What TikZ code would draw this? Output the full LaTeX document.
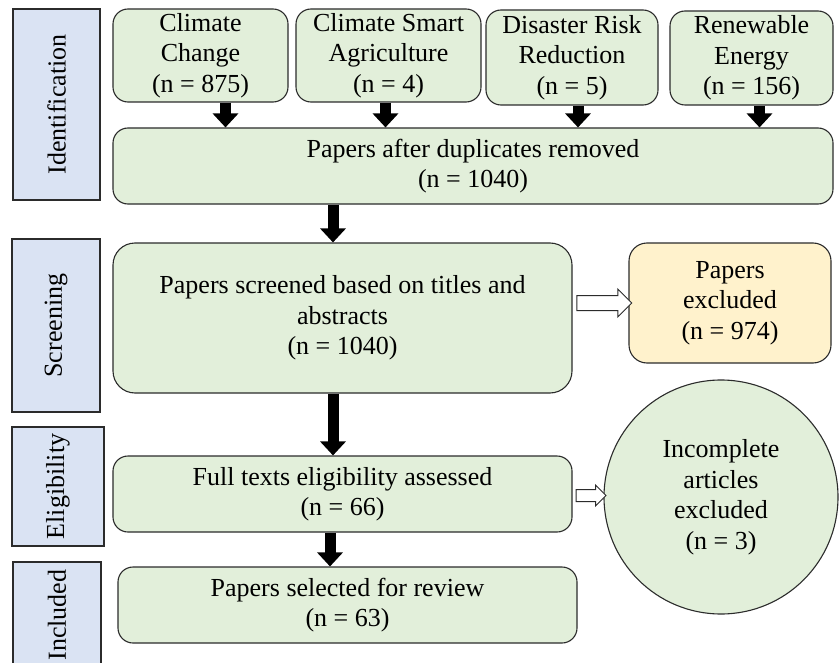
\documentclass[tikz,border=0pt]{standalone}
\usepackage{fontspec}
\setmainfont{Liberation Serif}
\usetikzlibrary{arrows.meta,shapes.arrows,shapes.geometric,calc}
\definecolor{gfill}{HTML}{E2EFDA}
\definecolor{bfill}{HTML}{DAE3F3}
\definecolor{yfill}{HTML}{FFF2CC}
\definecolor{edge}{HTML}{2B2B2B}
\begin{document}
\begin{tikzpicture}[x=1pt,y=-1pt,
  font=\fontsize{26}{30.5}\selectfont,
  phase/.style={draw=edge, line width=1.1pt, fill=bfill, inner sep=0pt},
  gbox/.style={draw=edge, line width=1.1pt, fill=gfill, rounded corners=15pt, align=center, inner sep=0pt},
  ybox/.style={gbox, fill=yfill},
  blk/.style={line width=11pt, -{Triangle[width=25pt,length=14pt]}},
  hollow/.style={single arrow, draw=edge, line width=1pt, fill=white, inner sep=0pt, single arrow head extend=6.5pt}
]
\useasboundingbox (0,0) rectangle (840,663);

% phase labels
\node[phase, minimum width=87pt, minimum height=191pt] (pid) at (56.5,104.5) {\rotatebox{90}{Identification}};
\node[phase, minimum width=88pt, minimum height=173pt] (pscr) at (56,325.5) {\rotatebox{90}{Screening}};
\node[phase, minimum width=92pt, minimum height=119pt] (pel) at (58,486.5) {\rotatebox{90}{Eligibility}};
\node[phase, minimum width=88pt, minimum height=106pt] (pin) at (57,615) {\rotatebox{90}{Included}};

% top boxes
\node[gbox, minimum width=175pt, minimum height=93pt] (cc) at (200.5,55.5) {Climate\\Change\\(n = 875)};
\node[gbox, minimum width=185pt, minimum height=93pt] (csa) at (388.5,55.5) {Climate Smart\\Agriculture\\(n = 4)};
\node[gbox, minimum width=172pt, minimum height=95pt] (drr) at (572,57.5) {Disaster Risk\\Reduction\\(n = 5)};
\node[gbox, minimum width=163pt, minimum height=94pt] (re) at (751.5,58) {Renewable\\Energy\\(n = 156)};

\node[gbox, minimum width=720pt, minimum height=76pt] (dup) at (473,166) {Papers after duplicates removed\\(n = 1040)};
\node[gbox, rounded corners=22pt, minimum width=459pt, minimum height=150pt] (scr) at (342.5,318) {Papers screened based on titles and\\abstracts\\(n = 1040)};
\node[ybox, rounded corners=18pt, minimum width=202pt, minimum height=120pt] (exc) at (730,303) {Papers\\excluded\\(n = 974)};
\node[gbox, minimum width=459pt, minimum height=76pt] (elig) at (342.5,494) {Full texts eligibility assessed\\(n = 66)};
\node[draw=edge, line width=1.1pt, fill=gfill, circle, minimum size=234pt, inner sep=0pt, align=center] (circ) at (721,497) {Incomplete\\articles\\excluded\\(n = 3)};
\node[gbox, minimum width=459pt, minimum height=76pt] (incl) at (347.5,605) {Papers selected for review\\(n = 63)};

% block arrows
\draw[blk] ([xshift=25pt]cc.south) -- ([xshift=25pt]cc.south |- dup.north);
\draw[blk] ([xshift=-3pt]csa.south) -- ([xshift=-3pt]csa.south |- dup.north);
\draw[blk] ([xshift=6pt]drr.south) -- ([xshift=6pt]drr.south |- dup.north);
\draw[blk] ([xshift=8pt]re.south) -- ([xshift=8pt]re.south |- dup.north);
\draw[blk] ([xshift=-9.5pt]scr.north |- dup.south) -- ([xshift=-9.5pt]scr.north);
\draw[blk] ([xshift=-9.5pt]scr.south) -- ([xshift=-9.5pt]scr.south |- elig.north);
\draw[blk] ([xshift=-12.5pt]elig.south) -- ([xshift=-12.5pt]elig.south |- incl.north);

% hollow arrows
\node[hollow, minimum height=55pt] (h1) at ($(scr.east |- exc.west)!0.5!(exc.west)$) {\rule{0pt}{14pt}};
\node[hollow, minimum height=30pt, single arrow head extend=4.5pt] (h2) at ($(elig.east)!0.5!(circ.west)$) {\rule{0pt}{11pt}};
\end{tikzpicture}
\end{document}
